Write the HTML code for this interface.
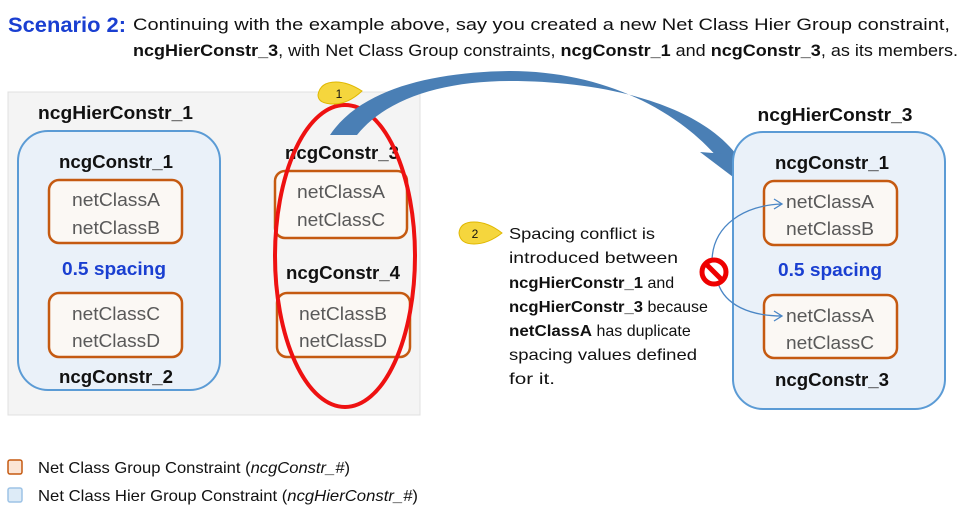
<!DOCTYPE html>
<html><head><meta charset="utf-8"><style>
body{margin:0;background:#fff;width:963px;height:521px;overflow:hidden;position:relative;font-family:"Liberation Sans",sans-serif;}
svg{position:absolute;left:0;top:0}
</style></head><body>
<svg width="963" height="521" viewBox="0 0 963 521" font-family="Liberation Sans, sans-serif">
<text x="8" y="32" font-size="21" font-weight="bold" fill="#1a3fd1" textLength="118" lengthAdjust="spacingAndGlyphs">Scenario 2:</text>
<text x="133" y="30" font-size="17" fill="#111" textLength="817" lengthAdjust="spacingAndGlyphs">Continuing with the example above, say you created a new Net Class Hier Group constraint,</text>
<text x="133" y="56" font-size="17" fill="#111" textLength="825" lengthAdjust="spacingAndGlyphs"><tspan font-weight="bold">ncgHierConstr_3</tspan>, with Net Class Group constraints, <tspan font-weight="bold">ncgConstr_1</tspan> and <tspan font-weight="bold">ncgConstr_3</tspan>, as its members.</text>

<rect x="8" y="92" width="412" height="323" fill="#f4f4f4" stroke="#e0e0e0"/>
<text x="38" y="119" font-size="18" font-weight="bold" fill="#111" textLength="155" lengthAdjust="spacingAndGlyphs">ncgHierConstr_1</text>
<rect x="18" y="131" width="202" height="259" rx="30" fill="#eaf1f9" stroke="#5b9bd5" stroke-width="2"/>
<g font-size="18" text-anchor="middle">
<text x="116" y="168" font-weight="bold" fill="#111" textLength="114" lengthAdjust="spacingAndGlyphs">ncgConstr_1</text>
<rect x="49" y="180" width="133" height="63" rx="10" fill="#fbf8f4" stroke="#c55a11" stroke-width="2.5"/>
<text x="116" y="206" fill="#595959" textLength="88" lengthAdjust="spacingAndGlyphs">netClassA</text>
<text x="116" y="234" fill="#595959" textLength="88" lengthAdjust="spacingAndGlyphs">netClassB</text>
<text x="114" y="275" font-weight="bold" fill="#1a3fd1" textLength="104" lengthAdjust="spacingAndGlyphs">0.5 spacing</text>
<rect x="49" y="293" width="133" height="64" rx="10" fill="#fbf8f4" stroke="#c55a11" stroke-width="2.5"/>
<text x="116" y="320" fill="#595959" textLength="88" lengthAdjust="spacingAndGlyphs">netClassC</text>
<text x="116" y="347" fill="#595959" textLength="88" lengthAdjust="spacingAndGlyphs">netClassD</text>
<text x="116" y="383" font-weight="bold" fill="#111" textLength="114" lengthAdjust="spacingAndGlyphs">ncgConstr_2</text>

<text x="342" y="159" font-weight="bold" fill="#111" textLength="114" lengthAdjust="spacingAndGlyphs">ncgConstr_3</text>
<rect x="275" y="171" width="132" height="67" rx="10" fill="#fbf8f4" stroke="#c55a11" stroke-width="2.5"/>
<text x="341" y="198" fill="#595959" textLength="88" lengthAdjust="spacingAndGlyphs">netClassA</text>
<text x="341" y="226" fill="#595959" textLength="88" lengthAdjust="spacingAndGlyphs">netClassC</text>
<text x="343" y="279" font-weight="bold" fill="#111" textLength="114" lengthAdjust="spacingAndGlyphs">ncgConstr_4</text>
<rect x="277" y="293" width="133" height="64" rx="10" fill="#fbf8f4" stroke="#c55a11" stroke-width="2.5"/>
<text x="343" y="320" fill="#595959" textLength="88" lengthAdjust="spacingAndGlyphs">netClassB</text>
<text x="343" y="347" fill="#595959" textLength="88" lengthAdjust="spacingAndGlyphs">netClassD</text>
</g>
<ellipse cx="345" cy="256" rx="70" ry="151" fill="none" stroke="#ee1111" stroke-width="4"/>

<path d="M330,135 C360,90 430,72 510,71 C600,71 675,108 718,158 L736,154 C695,102 600,81 510,81 C440,81 385,100 357,135 Z" fill="#4a7fb5"/>
<polygon points="700,152 752,156 737,180" fill="#4a7fb5"/>

<path d="M318,95 Q320,82 336,82 Q348,82 362,91 Q348,104 334,104 Q318,104 318,95 Z" fill="#f5d63d" stroke="#e0b800"/>
<text x="339" y="98" font-size="12" text-anchor="middle" fill="#111">1</text>
<path d="M459,233 Q460,222 474,222 Q488,222 502,233 Q488,244 474,244 Q460,244 459,233 Z" fill="#f5d63d" stroke="#e0b800"/>
<text x="475" y="238" font-size="12" text-anchor="middle" fill="#111">2</text>

<g font-size="16" fill="#111">
<text x="509" y="239" textLength="146" lengthAdjust="spacingAndGlyphs">Spacing conflict is</text>
<text x="509" y="263" textLength="169" lengthAdjust="spacingAndGlyphs">introduced between</text>
<text x="509" y="288"><tspan font-weight="bold" textLength="134" lengthAdjust="spacingAndGlyphs">ncgHierConstr_1</tspan> and</text>
<text x="509" y="312"><tspan font-weight="bold" textLength="134" lengthAdjust="spacingAndGlyphs">ncgHierConstr_3</tspan> because</text>
<text x="509" y="336"><tspan font-weight="bold" textLength="83" lengthAdjust="spacingAndGlyphs">netClassA</tspan> has duplicate</text>
<text x="509" y="360" textLength="188" lengthAdjust="spacingAndGlyphs">spacing values defined</text>
<text x="509" y="384" textLength="46" lengthAdjust="spacingAndGlyphs">for it.</text>
</g>

<text x="835" y="121" font-size="18" font-weight="bold" text-anchor="middle" fill="#111" textLength="155" lengthAdjust="spacingAndGlyphs">ncgHierConstr_3</text>
<rect x="733" y="132" width="212" height="277" rx="30" fill="#eaf1f9" stroke="#5b9bd5" stroke-width="2"/>
<g font-size="18" text-anchor="middle">
<text x="832" y="169" font-weight="bold" fill="#111" textLength="114" lengthAdjust="spacingAndGlyphs">ncgConstr_1</text>
<rect x="764" y="181" width="133" height="64" rx="10" fill="#fbf8f4" stroke="#c55a11" stroke-width="2.5"/>
<text x="830" y="208" fill="#595959" textLength="88" lengthAdjust="spacingAndGlyphs">netClassA</text>
<text x="830" y="235" fill="#595959" textLength="88" lengthAdjust="spacingAndGlyphs">netClassB</text>
<text x="830" y="276" font-weight="bold" fill="#1a3fd1" textLength="104" lengthAdjust="spacingAndGlyphs">0.5 spacing</text>
<rect x="764" y="295" width="133" height="63" rx="10" fill="#fbf8f4" stroke="#c55a11" stroke-width="2.5"/>
<text x="830" y="322" fill="#595959" textLength="88" lengthAdjust="spacingAndGlyphs">netClassA</text>
<text x="830" y="349" fill="#595959" textLength="88" lengthAdjust="spacingAndGlyphs">netClassC</text>
<text x="832" y="386" font-weight="bold" fill="#111" textLength="114" lengthAdjust="spacingAndGlyphs">ncgConstr_3</text>
</g>

<path d="M712,262 C712,225 745,205 782,204 M774,199 L782,204 L774,209" fill="none" stroke="#4a86c5" stroke-width="1.3"/>
<path d="M718,283 C725,305 750,316 782,316 M774,311 L782,316 L774,321" fill="none" stroke="#4a86c5" stroke-width="1.3"/>
<circle cx="714" cy="272" r="12" fill="#fff" stroke="#e00" stroke-width="5"/>
<line x1="706" y1="264" x2="722" y2="280" stroke="#e00" stroke-width="5"/>

<rect x="8" y="460" width="14" height="14" rx="2" fill="#fbe5d6" stroke="#c55a11" stroke-width="1.5"/>
<text x="38" y="473" font-size="16" fill="#111" textLength="312" lengthAdjust="spacingAndGlyphs">Net Class Group Constraint (<tspan font-style="italic">ncgConstr_#</tspan>)</text>
<rect x="8" y="488" width="14" height="14" rx="2" fill="#ddebf7" stroke="#9dc3e6" stroke-width="1.5"/>
<text x="38" y="501" font-size="16" fill="#111" textLength="380" lengthAdjust="spacingAndGlyphs">Net Class Hier Group Constraint (<tspan font-style="italic">ncgHierConstr_#</tspan>)</text>
</svg>
</body></html>
